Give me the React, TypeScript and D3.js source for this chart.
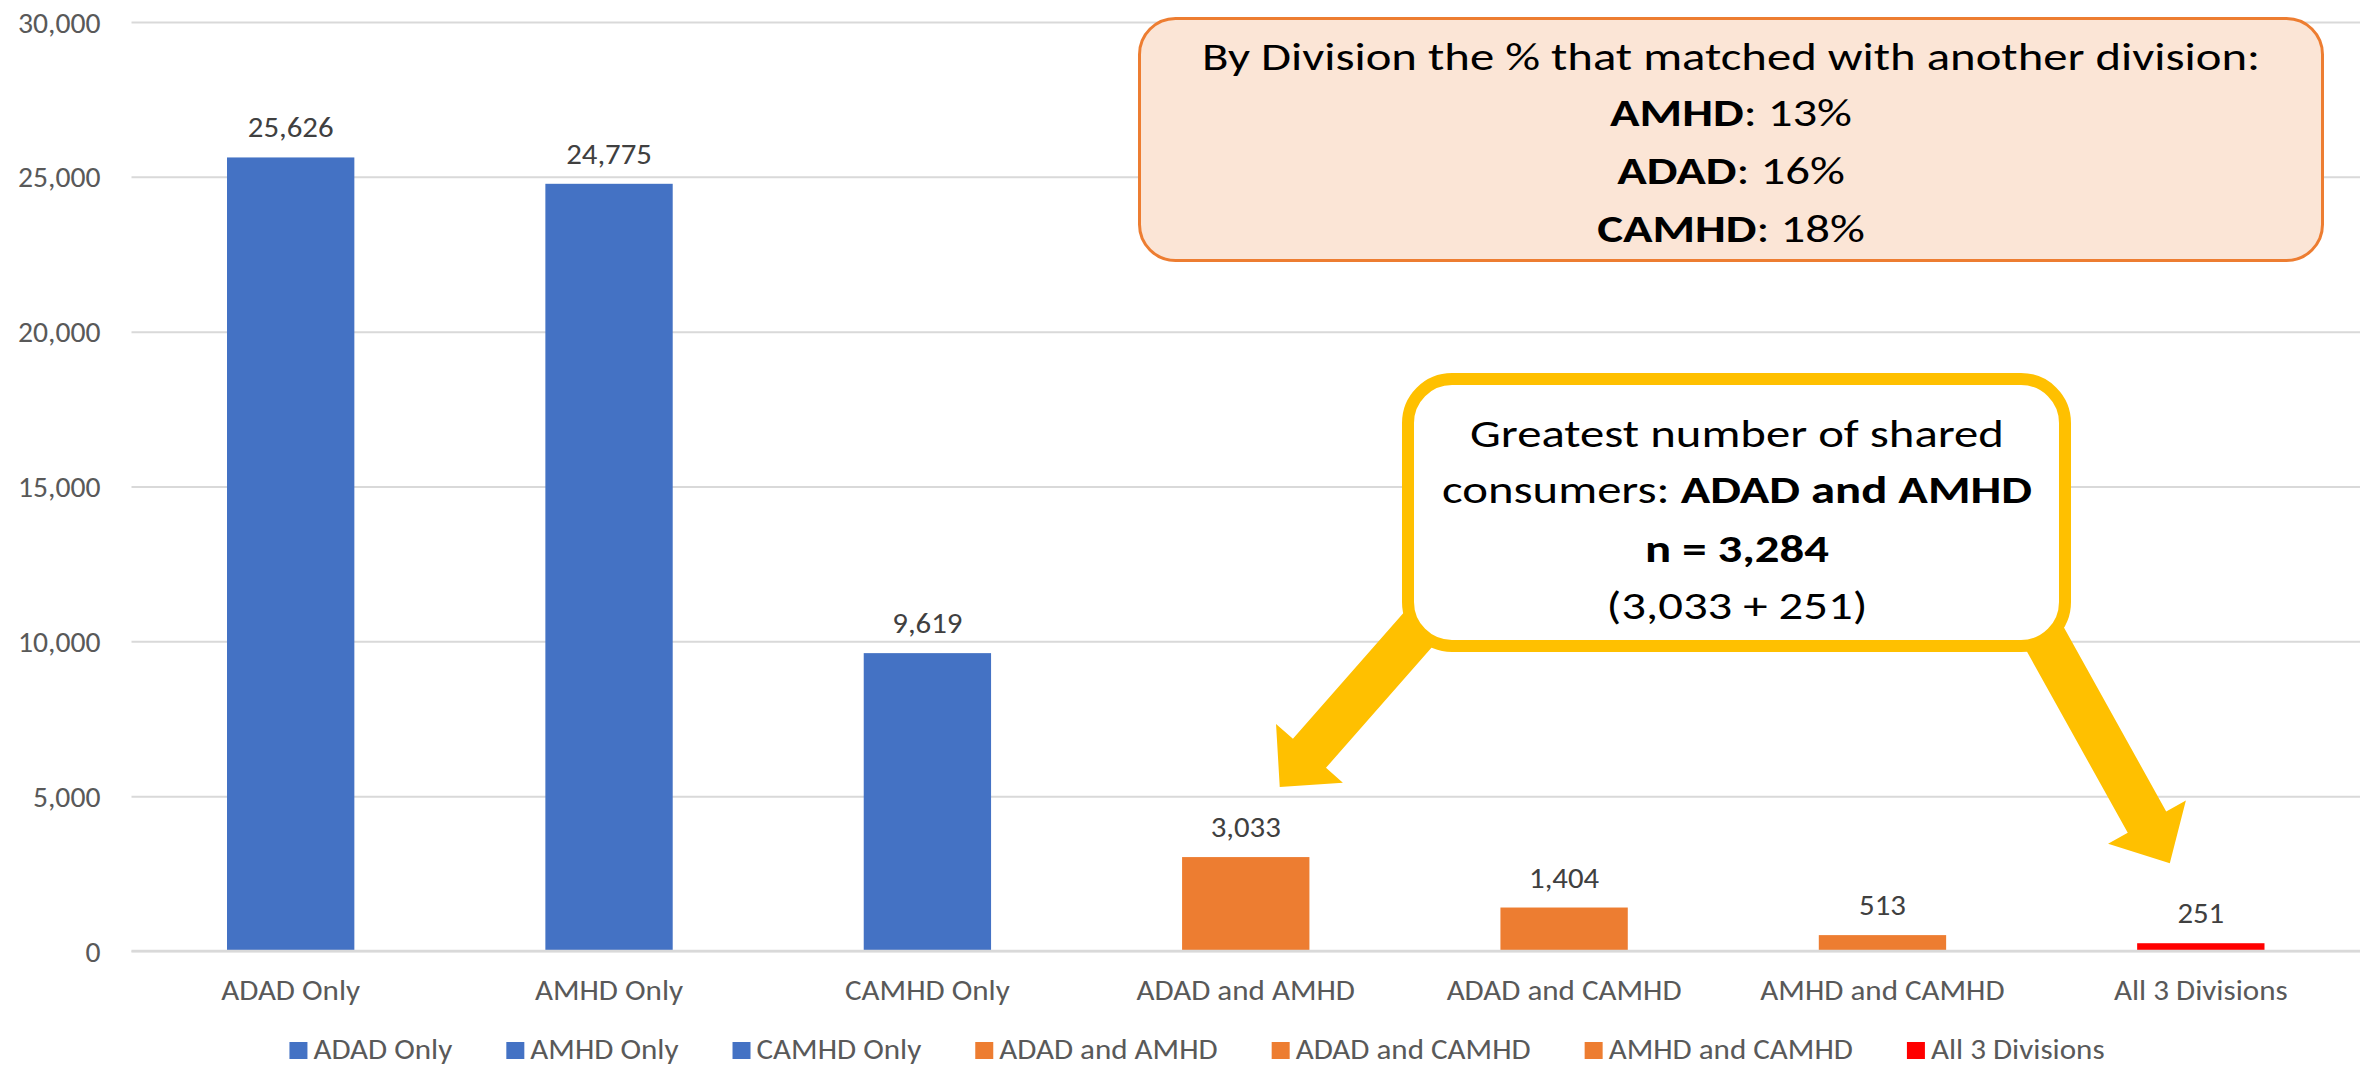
import { useEffect, useRef } from 'react';
import * as d3 from 'd3';

// chart data
const categories = [
  'ADAD Only',
  'AMHD Only',
  'CAMHD Only',
  'ADAD and AMHD',
  'ADAD and CAMHD',
  'AMHD and CAMHD',
  'All 3 Divisions',
];
const consumers = [25626, 24775, 9619, 3033, 1404, 513, 251];
const groups = ['single', 'single', 'single', 'pair', 'pair', 'pair', 'all'];
const yTicks = [0, 5000, 10000, 15000, 20000, 25000, 30000];

// callout text
const matchDivisions = ['AMHD', 'ADAD', 'CAMHD'];
const matchPercents = ['13%', '16%', '18%'];
const sharedPair = 'ADAD and AMHD';
const sharedTotal = '3,284';
const sharedParts = '(3,033 + 251)';

const groupColor: Record<string, string> = {
  single: '#4472C4',
  pair: '#ED7D31',
  all: '#FF0000',
};

const W = 2372;
const H = 1068;
const FONT = 'Carlito, Calibri, Lato, sans-serif';
const LABEL_STRETCH = 1.11; // widen Lato to Calibri-like widths
const BOX_STRETCH = 1.25;

// block arrow polygon from start point to tip
const arrowPoints = (sx: number, sy: number, tx: number, ty: number, shaftW: number, headW: number, headL: number) => {
  const len = Math.hypot(tx - sx, ty - sy);
  const ux = (tx - sx) / len;
  const uy = (ty - sy) / len;
  const nx = -uy;
  const ny = ux;
  const bx = tx - ux * headL;
  const by = ty - uy * headL;
  const pts = [
    [sx + nx * shaftW / 2, sy + ny * shaftW / 2],
    [bx + nx * shaftW / 2, by + ny * shaftW / 2],
    [bx + nx * headW / 2, by + ny * headW / 2],
    [tx, ty],
    [bx - nx * headW / 2, by - ny * headW / 2],
    [bx - nx * shaftW / 2, by - ny * shaftW / 2],
    [sx - nx * shaftW / 2, sy - ny * shaftW / 2],
  ];
  return pts.map(p => p.join(',')).join(' ');
};

// move x/y into a transform so the glyphs can be widened around their anchor
const stretch = (sel: d3.Selection<any, any, any, any>, s: number) => {
  sel.each(function () {
    const el = d3.select(this);
    const tx = +(el.attr('x') || 0);
    const ty = +(el.attr('y') || 0);
    el.attr('x', 0).attr('y', 0).attr('transform', `translate(${tx},${ty}) scale(${s},1)`);
  });
};

const App = () => {
  const svgRef = useRef<SVGSVGElement>(null);

  useEffect(() => {
    if (!svgRef.current) return;
    document.body.style.margin = '0';
    document.body.style.overflow = 'hidden';

    const svg = d3.select(svgRef.current);
    svg.selectAll('*').remove();

    const left = 131.5;
    const right = 2360;
    const top = 22;
    const bottom = 951;

    const x = d3.scaleBand()
      .domain(categories)
      .range([left, right])
      .paddingInner(0.6)
      .paddingOuter(0.3);

    const y = d3.scaleLinear()
      .domain([0, 30000])
      .range([bottom, top]);

    // y axis with gridlines
    const yAxis = svg.append('g')
      .attr('transform', `translate(${left},0)`)
      .call(d3.axisLeft(y).tickValues(yTicks).tickFormat(d3.format(',')).tickSize(-(right - left)).tickPadding(31));
    yAxis.select('.domain').remove();
    yAxis.selectAll('line')
      .attr('stroke', '#D9D9D9')
      .attr('stroke-width', 2);
    yAxis.selectAll('text')
      .attr('font-family', FONT)
      .attr('font-size', 28)
      .attr('fill', '#595959')
      .attr('dy', '0.36em');
    stretch(yAxis.selectAll('text'), 1.06);

    // bars
    svg.append('g')
      .selectAll('rect')
      .data(categories)
      .join('rect')
      .attr('x', d => x(d) || 0)
      .attr('y', (d, i) => y(consumers[i]))
      .attr('width', x.bandwidth())
      .attr('height', (d, i) => bottom - y(consumers[i]))
      .attr('fill', (d, i) => groupColor[groups[i]]);

    // zero line on top of bars
    svg.append('line')
      .attr('x1', left).attr('x2', right)
      .attr('y1', y(0)).attr('y2', y(0))
      .attr('stroke', '#D9D9D9')
      .attr('stroke-width', 2.5);

    // value labels
    const values = svg.append('g')
      .selectAll('text')
      .data(categories)
      .join('text')
      .attr('x', d => (x(d) || 0) + x.bandwidth() / 2)
      .attr('y', (d, i) => y(consumers[i]) - 20)
      .attr('text-anchor', 'middle')
      .attr('font-family', FONT)
      .attr('font-size', 28)
      .attr('fill', '#404040')
      .text((d, i) => d3.format(',')(consumers[i]));
    stretch(values, 1.1);

    // x axis labels
    const xAxis = svg.append('g')
      .attr('transform', `translate(0,${bottom})`)
      .call(d3.axisBottom(x).tickSize(0).tickPadding(29));
    xAxis.select('.domain').remove();
    xAxis.selectAll('text')
      .attr('font-family', FONT)
      .attr('font-size', 28)
      .attr('fill', '#595959');
    stretch(xAxis.selectAll('text'), LABEL_STRETCH);

    // legend
    const legend = svg.append('g').attr('font-family', FONT).attr('font-size', 28);
    const items = legend.selectAll('g')
      .data(categories)
      .join('g');
    items.append('rect')
      .attr('width', 18)
      .attr('height', 17)
      .attr('y', 1042)
      .attr('fill', (d, i) => groupColor[groups[i]]);
    items.append('text')
      .attr('x', 24)
      .attr('y', 1059)
      .attr('fill', '#595959')
      .text(d => d);
    const widths: number[] = [];
    items.selectAll<SVGTextElement, string>('text').each(function () {
      widths.push(this.getComputedTextLength() * LABEL_STRETCH);
    });
    stretch(items.selectAll('text'), LABEL_STRETCH);
    const gap = 54;
    const total = d3.sum(widths) + widths.length * 24 + (widths.length - 1) * gap;
    let cursor = 1197 - total / 2;
    items.attr('transform', (d, i) => {
      const t = `translate(${cursor},0)`;
      cursor += 24 + widths[i] + gap;
      return t;
    });

    // callout: share matched by division
    svg.append('rect')
      .attr('x', 1139.5)
      .attr('y', 18.5)
      .attr('width', 1183)
      .attr('height', 242)
      .attr('rx', 36)
      .attr('fill', '#FBE5D6')
      .attr('stroke', '#ED7D31')
      .attr('stroke-width', 3);
    const box1 = svg.append('g')
      .attr('font-family', FONT)
      .attr('font-size', 39)
      .attr('fill', '#000')
      .attr('text-anchor', 'middle');
    box1.append('text')
      .attr('x', 1731)
      .attr('y', 70)
      .text('By Division the % that matched with another division:');
    matchDivisions.forEach((div, i) => {
      const t = box1.append('text')
        .attr('x', 1731)
        .attr('y', 126 + i * 58);
      t.append('tspan').attr('font-weight', 'bold').text(div);
      t.append('tspan').text(`: ${matchPercents[i]}`);
    });
    stretch(box1.selectAll('text'), BOX_STRETCH);

    // arrows from the shared-consumers callout
    const pairX = (x(sharedPair) || 0) + x.bandwidth() / 2;
    const allX = (x('All 3 Divisions') || 0) + x.bandwidth() / 2;
    const leftTip: [number, number] = [pairX + 34, y(consumers[3]) - 70];
    const rightTip: [number, number] = [allX - 31, y(consumers[6]) - 80];
    svg.append('polygon')
      .attr('points', arrowPoints(leftTip[0] + 0.66 * 260, leftTip[1] - 0.751 * 260, leftTip[0], leftTip[1], 44, 89, 45))
      .attr('fill', '#FFC000');
    svg.append('polygon')
      .attr('points', arrowPoints(rightTip[0] - 0.486 * 300, rightTip[1] - 0.874 * 300, rightTip[0], rightTip[1], 44, 89, 47))
      .attr('fill', '#FFC000');

    // callout: greatest number of shared consumers
    svg.append('rect')
      .attr('x', 1408)
      .attr('y', 379)
      .attr('width', 657)
      .attr('height', 267)
      .attr('rx', 44)
      .attr('fill', '#fff')
      .attr('stroke', '#FFC000')
      .attr('stroke-width', 12);
    const box2 = svg.append('g')
      .attr('font-family', FONT)
      .attr('font-size', 39)
      .attr('fill', '#000')
      .attr('text-anchor', 'middle');
    box2.append('text').attr('x', 1737).attr('y', 447).text('Greatest number of shared');
    const l2 = box2.append('text').attr('x', 1737).attr('y', 503);
    l2.append('tspan').text('consumers: ');
    l2.append('tspan').attr('font-weight', 'bold').text(sharedPair);
    box2.append('text').attr('x', 1737).attr('y', 562).attr('font-weight', 'bold').text(`n = ${sharedTotal}`);
    box2.append('text').attr('x', 1737).attr('y', 619).text(sharedParts);
    stretch(box2.selectAll('text'), BOX_STRETCH);
  }, []);

  return (
    <svg ref={svgRef} width={W} height={H} style={{ display: 'block', background: '#fff' }} />
  );
};

export default App;
